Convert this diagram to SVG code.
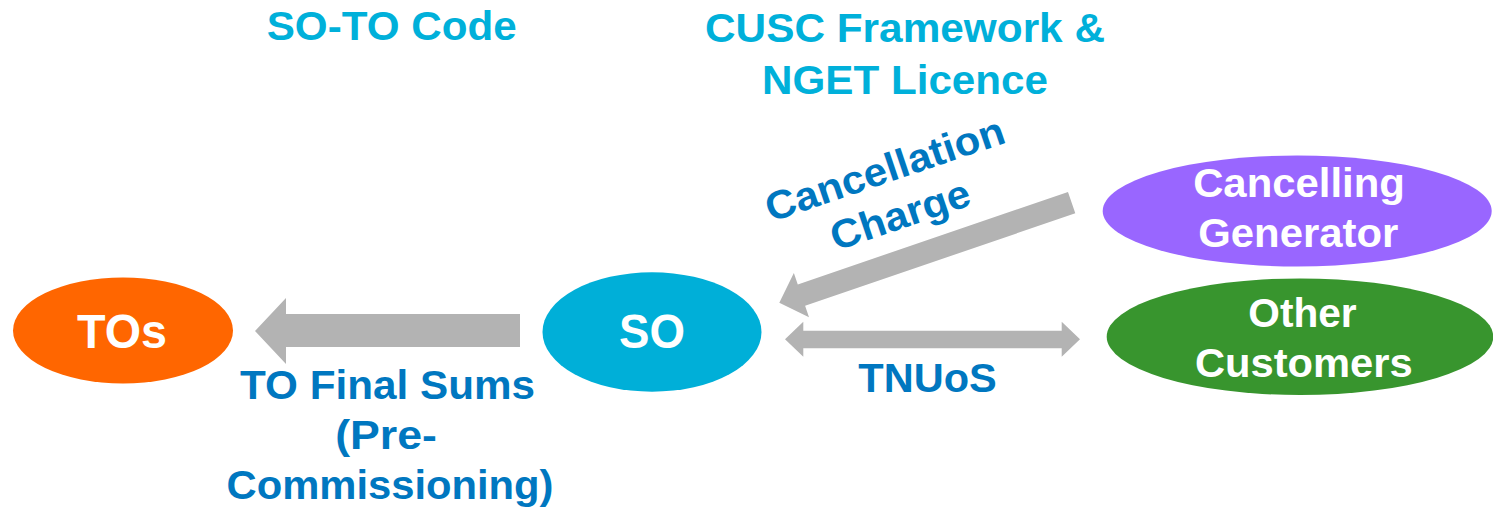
<svg xmlns="http://www.w3.org/2000/svg" width="1493" height="507" viewBox="0 0 1493 507">
<style>
text{font-family:"Liberation Sans",Arial,Helvetica,sans-serif;font-weight:bold;text-anchor:middle}
.hdr{fill:#00B0DA;font-size:40px}
.lbl{fill:#0077C0;font-size:40px}
.nd{fill:#FFFFFF;font-size:40px}
.big{font-size:48px}
.arr{fill:#B3B3B3}
</style>
<rect width="1493" height="507" fill="#FFFFFF"/>
<g id="headers">
<text class="hdr" x="391.7" y="39.5" textLength="250" lengthAdjust="spacingAndGlyphs">SO-TO Code</text>
<text class="hdr" x="905" y="41.7" textLength="400" lengthAdjust="spacingAndGlyphs">CUSC Framework &amp;</text>
<text class="hdr" x="905" y="94" textLength="286" lengthAdjust="spacingAndGlyphs">NGET Licence</text>
</g>
<g id="connectors">
<path class="arr" d="M255,331 L286,298 L286,314 L520,314 L520,347 L286,347 L286,364 Z"/>
<path class="arr" transform="translate(779.3,302.7) rotate(-18.9)" d="M0,0 L23.4,-23.4 L23.4,-11.3 L309,-11.3 L309,11.3 L23.4,11.3 L23.4,23.4 Z"/>
<path class="arr" d="M785,339.3 L803.3,321.7 L803.3,330.7 L1061.7,330.7 L1061.7,321.7 L1080,339.3 L1061.7,356.7 L1061.7,348.3 L803.3,348.3 L803.3,356.7 Z"/>
<g id="label-tofinal">
<text class="lbl" x="387.5" y="399.3" textLength="295" lengthAdjust="spacingAndGlyphs">TO Final Sums</text>
<text class="lbl" x="386" y="449" textLength="101.7" lengthAdjust="spacingAndGlyphs">(Pre-</text>
<text class="lbl" x="390" y="499" textLength="327" lengthAdjust="spacingAndGlyphs">Commissioning)</text>
</g>
<g id="label-cancellation" transform="translate(896.5,204) rotate(-18.7)">
<text class="lbl" x="0" y="-23" textLength="250" lengthAdjust="spacingAndGlyphs">Cancellation</text>
<text class="lbl" x="0" y="25" textLength="145" lengthAdjust="spacingAndGlyphs">Charge</text>
</g>
<text class="lbl" x="927.5" y="391.7" textLength="138.4" lengthAdjust="spacingAndGlyphs">TNUoS</text>
</g>
<g id="node-tos">
<ellipse cx="123" cy="330.5" rx="110" ry="53" fill="#FF6600"/>
<text class="nd big" x="122" y="348.3" textLength="90" lengthAdjust="spacingAndGlyphs">TOs</text>
</g>
<g id="node-so">
<ellipse cx="652" cy="332" rx="109.5" ry="59.7" fill="#00AFD8"/>
<text class="nd big" x="652" y="348.3" textLength="66" lengthAdjust="spacingAndGlyphs">SO</text>
</g>
<g id="node-cancelling">
<ellipse cx="1297.2" cy="211" rx="194.5" ry="55.5" fill="#9966FF"/>
<text class="nd" x="1299" y="196.7" textLength="211.7" lengthAdjust="spacingAndGlyphs">Cancelling</text>
<text class="nd" x="1298.3" y="247.3" textLength="200" lengthAdjust="spacingAndGlyphs">Generator</text>
</g>
<g id="node-other">
<ellipse cx="1300" cy="336.7" rx="193.3" ry="58.3" fill="#38952E"/>
<text class="nd" x="1302.5" y="326.7" textLength="108.4" lengthAdjust="spacingAndGlyphs">Other</text>
<text class="nd" x="1303.8" y="376.7" textLength="217.7" lengthAdjust="spacingAndGlyphs">Customers</text>
</g>
</svg>
